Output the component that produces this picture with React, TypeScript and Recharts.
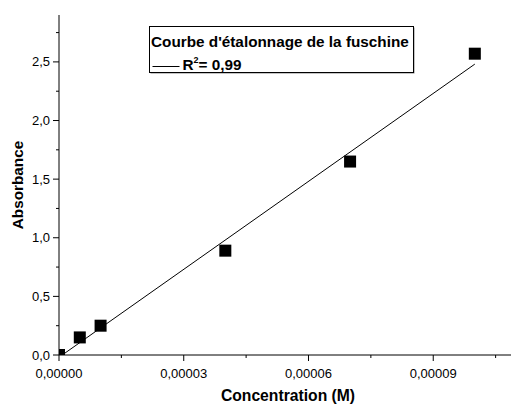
import React from 'react';
import { ComposedChart, Scatter, Line, XAxis, YAxis, Legend } from 'recharts';

// calibration points: concentration (M) vs absorbance
const concentrations = [0, 0.000005, 0.00001, 0.00004, 0.00007, 0.0001];
const absorbances = [0, 0.15, 0.25, 0.89, 1.65, 2.57];

// major + minor ticks (every other one is labelled)
const xTicks = [0, 0.000015, 0.00003, 0.000045, 0.00006, 0.000075, 0.00009, 0.000105];
const yTicks = [0, 0.25, 0.5, 0.75, 1, 1.25, 1.5, 1.75, 2, 2.25, 2.5, 2.75];

const LEGEND_TITLE = "Courbe d'étalonnage de la fuschine";
const R2_TEXT = '0,99';

const X_DOMAIN: [number, number] = [0, 0.0001087];
const Y_DOMAIN: [number, number] = [0, 2.9];
const FONT = "Arial, 'Liberation Sans', sans-serif";

const points = concentrations.map((c, i) => ({ c, a: absorbances[i] }));

// least squares line through the points
const n = concentrations.length;
const meanC = concentrations.reduce((s, v) => s + v, 0) / n;
const meanA = absorbances.reduce((s, v) => s + v, 0) / n;
let sxy = 0;
let sxx = 0;
concentrations.forEach((c, i) => {
  sxy += (c - meanC) * (absorbances[i] - meanA);
  sxx += (c - meanC) * (c - meanC);
});
const slope = sxy / sxx;
const intercept = meanA - slope * meanC;
const cMax = Math.max(...concentrations);
const fitLine = [
  { c: 0, a: intercept },
  { c: cMax, a: slope * cMax + intercept },
];

const comma = (s: string) => s.replace('.', ',');

const XTick = (props: any) => {
  const { x, y, index, payload } = props;
  const major = index % 2 === 0;
  return (
    <g>
      <line x1={x} x2={x} y1={y} y2={y + (major ? 6 : 3)} stroke="#000" />
      {major && (
        <text x={x} y={y + 23} textAnchor="middle" fontSize={13} fontFamily={FONT} fill="#000">
          {comma(payload.value.toFixed(5))}
        </text>
      )}
    </g>
  );
};

const YTick = (props: any) => {
  const { x, y, index, payload } = props;
  const major = index % 2 === 0;
  return (
    <g>
      <line x1={x - (major ? 6 : 3)} x2={x} y1={y} y2={y} stroke="#000" />
      {major && (
        <text x={x - 9} y={y + 4.5} textAnchor="end" fontSize={13} fontFamily={FONT} fill="#000">
          {comma(payload.value.toFixed(1))}
        </text>
      )}
    </g>
  );
};

const XTitle = ({ viewBox }: any) => (
  <text
    x={viewBox.x + viewBox.width / 2 + 3}
    y={viewBox.y + viewBox.height - 4}
    textAnchor="middle"
    fontSize={15.7}
    fontWeight="bold"
    fontFamily={FONT}
    fill="#000"
  >
    Concentration (M)
  </text>
);

const YTitle = ({ viewBox }: any) => {
  const x = viewBox.x + 22.5;
  const y = viewBox.y + viewBox.height / 2;
  return (
    <text
      x={x}
      y={y}
      transform={`rotate(-90 ${x} ${y})`}
      textAnchor="middle"
      fontSize={15.3}
      fontWeight="bold"
      fontFamily={FONT}
      fill="#000"
    >
      Absorbance
    </text>
  );
};

const Square = (props: any) => (
  <rect x={props.cx - 6} y={props.cy - 6} width={12} height={12} fill="#000" />
);

const LegendBox = ({ payload }: any) => {
  const color = payload && payload[0] ? payload[0].color : '#000';
  return (
    <svg width={268} height={50} style={{ display: 'block', overflow: 'visible' }}>
      <rect x={1.5} y={1.5} width={264} height={46} fill="#888" />
      <rect x={0.5} y={0.5} width={264} height={46} fill="#fff" stroke="#000" />
      <text x={2} y={20.5} fontSize={15.3} fontWeight="bold" fontFamily={FONT} fill="#000">
        {LEGEND_TITLE}
      </text>
      <line x1={3.5} x2={30.5} y1={40.5} y2={40.5} stroke={color} />
      <text x={33.5} y={44} fontSize={15.3} fontWeight="bold" fontFamily={FONT} fill="#000">
        R
        <tspan fontSize={9} dy={-7}>2</tspan>
        <tspan dy={7}>{`= ${R2_TEXT}`}</tspan>
      </text>
    </svg>
  );
};

export default function App() {
  return (
    <div style={{ position: 'absolute', left: 0, top: 0 }}>
      <ComposedChart width={511} height={405} margin={{ top: 15, right: 0, bottom: 0, left: 0 }}>
        <XAxis
          xAxisId="top"
          orientation="top"
          type="number"
          domain={X_DOMAIN}
          height={0}
          tick={false}
          tickLine={false}
          axisLine={{ stroke: '#000' }}
        />
        <XAxis
          type="number"
          dataKey="c"
          domain={X_DOMAIN}
          allowDataOverflow
          ticks={xTicks}
          interval={0}
          height={50}
          tickSize={0}
          tickMargin={0}
          tickLine={false}
          axisLine={{ stroke: '#000' }}
          tick={<XTick />}
          label={{ content: <XTitle /> }}
        />
        <YAxis
          type="number"
          dataKey="a"
          domain={Y_DOMAIN}
          allowDataOverflow
          ticks={yTicks}
          interval={0}
          width={59}
          tickSize={0}
          tickMargin={0}
          tickLine={false}
          axisLine={{ stroke: '#000' }}
          tick={<YTick />}
          label={{ content: <YTitle /> }}
        />
        <Legend
          layout="vertical"
          align="center"
          verticalAlign="middle"
          wrapperStyle={{ position: 'absolute', left: 149, top: 26, width: 268, height: 50 }}
          content={<LegendBox />}
        />
        <Line
          data={fitLine}
          dataKey="a"
          name={`R2= ${R2_TEXT}`}
          stroke="#000"
          strokeWidth={1}
          dot={false}
          activeDot={false}
          isAnimationActive={false}
        />
        <Scatter
          data={points}
          dataKey="a"
          shape={<Square />}
          legendType="none"
          isAnimationActive={false}
        />
      </ComposedChart>
    </div>
  );
}
